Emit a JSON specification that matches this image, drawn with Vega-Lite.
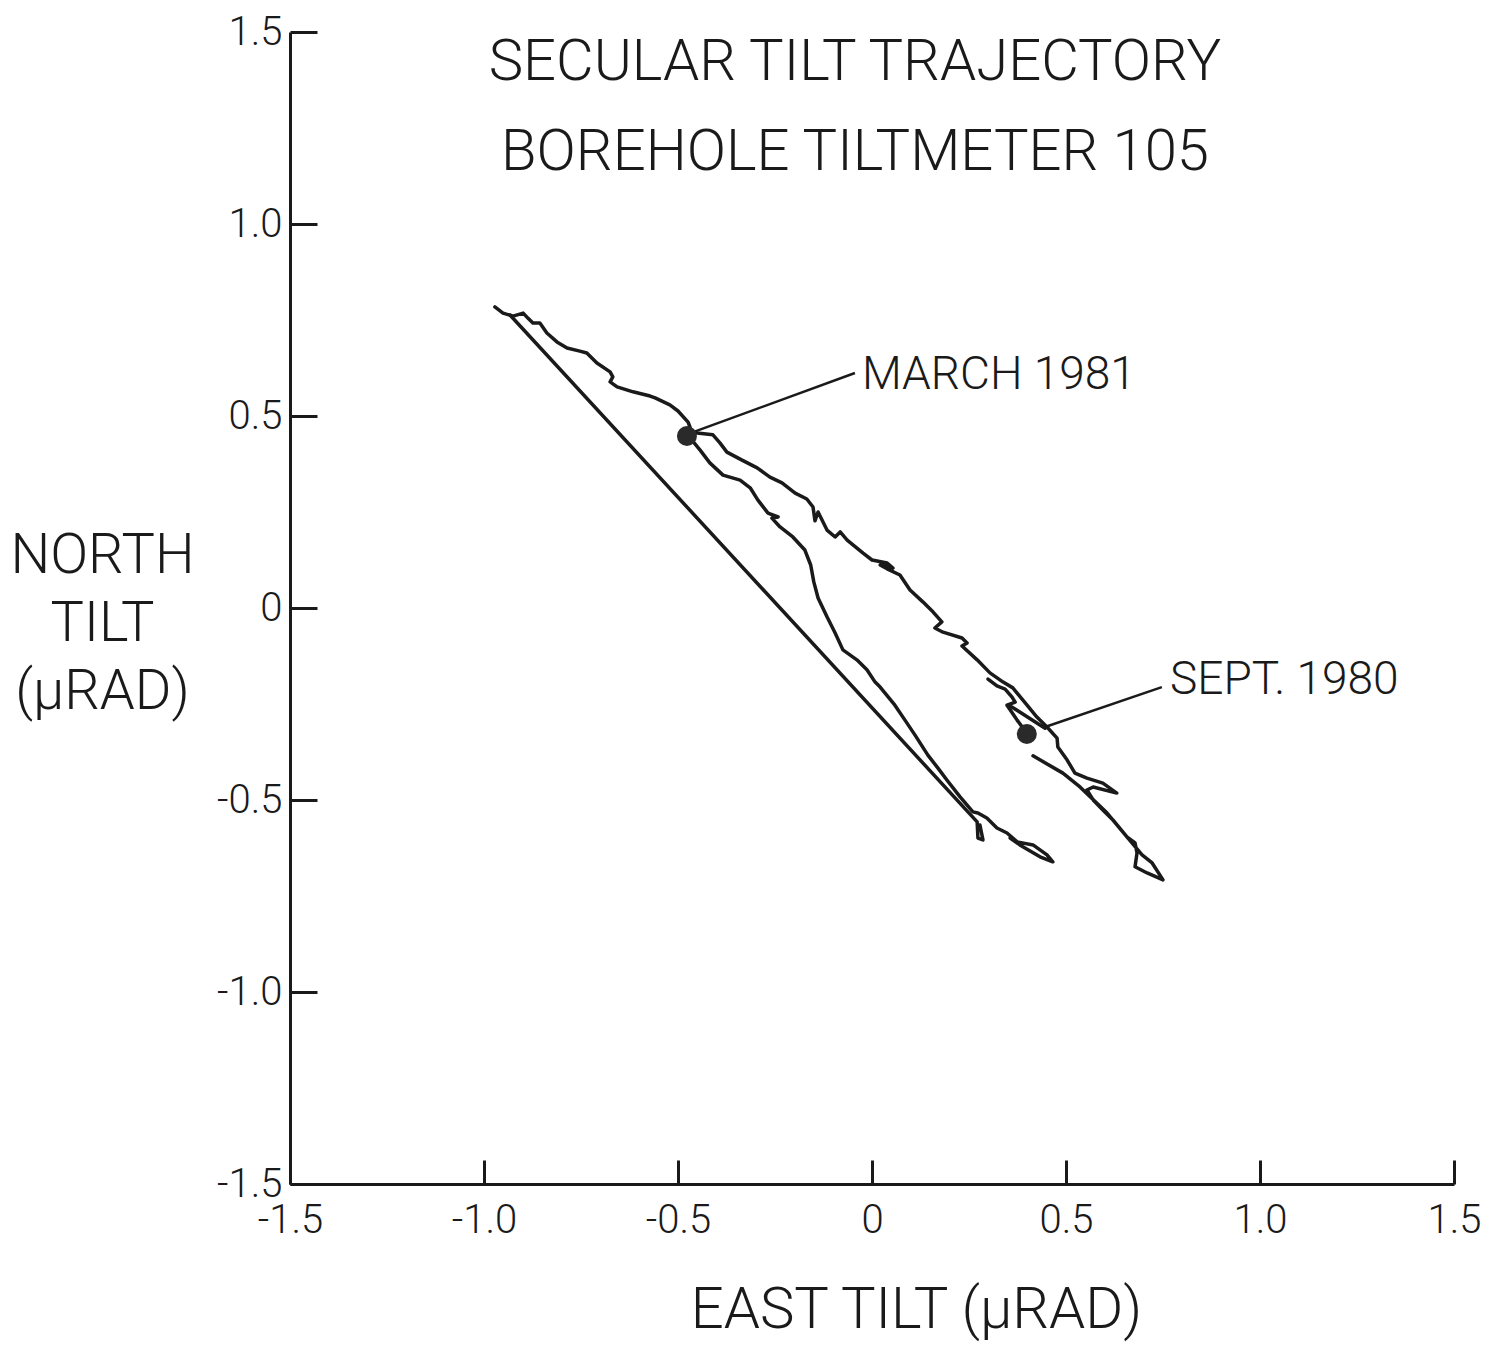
{
"$schema": "https://vega.github.io/schema/vega-lite/v6.json",
"width": 1164, "height": 1152,
"autosize": "none",
"padding": {"left": 290, "top": 32, "right": 51, "bottom": 162},
"background": "white",
"config": {"view": {"stroke": null}, "font": "Roboto"},
"title": {"text": ["SECULAR TILT TRAJECTORY", "BOREHOLE TILTMETER 105"], "fontSize": 58, "font": "Roboto", "fontWeight": 300, "color": "#1a1a1a", "lineHeight": 90, "anchor": "middle", "offset": -170, "dx": -17},
"datasets": {
"track": [
{"seg":"upper","i":1,"x":-0.972,"y":0.784},{"seg":"upper","i":2,"x":-0.951,"y":0.768},{"seg":"upper","i":3,"x":-0.925,"y":0.760},{"seg":"upper","i":4,"x":-0.899,"y":0.768},{"seg":"upper","i":5,"x":-0.887,"y":0.755},{"seg":"upper","i":6,"x":-0.874,"y":0.742},{"seg":"upper","i":7,"x":-0.856,"y":0.742},{"seg":"upper","i":8,"x":-0.838,"y":0.716},{"seg":"upper","i":9,"x":-0.812,"y":0.693},{"seg":"upper","i":10,"x":-0.786,"y":0.677},{"seg":"upper","i":11,"x":-0.753,"y":0.669},{"seg":"upper","i":12,"x":-0.735,"y":0.664},{"seg":"upper","i":13,"x":-0.709,"y":0.638},{"seg":"upper","i":14,"x":-0.675,"y":0.615},{"seg":"upper","i":15,"x":-0.668,"y":0.602},{"seg":"upper","i":16,"x":-0.675,"y":0.589},{"seg":"upper","i":17,"x":-0.657,"y":0.576},{"seg":"upper","i":18,"x":-0.616,"y":0.563},{"seg":"upper","i":19,"x":-0.572,"y":0.552},{"seg":"upper","i":20,"x":-0.559,"y":0.547},{"seg":"upper","i":21,"x":-0.521,"y":0.529},{"seg":"upper","i":22,"x":-0.500,"y":0.513},{"seg":"upper","i":23,"x":-0.474,"y":0.484},{"seg":"upper","i":24,"x":-0.469,"y":0.471},{"seg":"upper","i":25,"x":-0.469,"y":0.456},{"seg":"upper","i":26,"x":-0.451,"y":0.456},{"seg":"upper","i":27,"x":-0.410,"y":0.451},{"seg":"upper","i":28,"x":-0.392,"y":0.430},{"seg":"upper","i":29,"x":-0.374,"y":0.406},{"seg":"upper","i":30,"x":-0.335,"y":0.385},{"seg":"upper","i":31,"x":-0.296,"y":0.365},{"seg":"upper","i":32,"x":-0.263,"y":0.341},{"seg":"upper","i":33,"x":-0.232,"y":0.326},{"seg":"upper","i":34,"x":-0.198,"y":0.299},{"seg":"upper","i":35,"x":-0.168,"y":0.284},{"seg":"upper","i":36,"x":-0.152,"y":0.263},{"seg":"upper","i":37,"x":-0.147,"y":0.227},{"seg":"upper","i":38,"x":-0.139,"y":0.250},{"seg":"upper","i":39,"x":-0.116,"y":0.203},{"seg":"upper","i":40,"x":-0.095,"y":0.185},{"seg":"upper","i":41,"x":-0.082,"y":0.198},{"seg":"upper","i":42,"x":-0.064,"y":0.177},{"seg":"upper","i":43,"x":-0.023,"y":0.143},{"seg":"upper","i":44,"x":0.000,"y":0.125},{"seg":"upper","i":45,"x":0.039,"y":0.117},{"seg":"upper","i":46,"x":0.054,"y":0.104},{"seg":"upper","i":47,"x":0.021,"y":0.112},{"seg":"upper","i":48,"x":0.039,"y":0.102},{"seg":"upper","i":49,"x":0.072,"y":0.086},{"seg":"upper","i":50,"x":0.098,"y":0.047},{"seg":"upper","i":51,"x":0.131,"y":0.016},{"seg":"upper","i":52,"x":0.157,"y":-0.010},{"seg":"upper","i":53,"x":0.180,"y":-0.036},{"seg":"upper","i":54,"x":0.162,"y":-0.052},{"seg":"upper","i":55,"x":0.183,"y":-0.063},{"seg":"upper","i":56,"x":0.232,"y":-0.078},{"seg":"upper","i":57,"x":0.245,"y":-0.091},{"seg":"upper","i":58,"x":0.232,"y":-0.099},{"seg":"upper","i":59,"x":0.271,"y":-0.135},{"seg":"upper","i":60,"x":0.304,"y":-0.169},{"seg":"upper","i":61,"x":0.338,"y":-0.193},{"seg":"upper","i":62,"x":0.363,"y":-0.208},{"seg":"upper","i":63,"x":0.389,"y":-0.240},{"seg":"upper","i":64,"x":0.425,"y":-0.284},{"seg":"upper","i":65,"x":0.451,"y":-0.310},{"seg":"upper","i":66,"x":0.477,"y":-0.339},{"seg":"upper","i":67,"x":0.479,"y":-0.362},{"seg":"upper","i":68,"x":0.503,"y":-0.396},{"seg":"upper","i":69,"x":0.523,"y":-0.430},{"seg":"upper","i":70,"x":0.554,"y":-0.443},{"seg":"upper","i":71,"x":0.595,"y":-0.456},{"seg":"upper","i":72,"x":0.631,"y":-0.482},{"seg":"upper","i":73,"x":0.570,"y":-0.466},{"seg":"upper","i":74,"x":0.554,"y":-0.474},{"seg":"upper","i":75,"x":0.570,"y":-0.500},{"seg":"upper","i":76,"x":0.595,"y":-0.526},{"seg":"upper","i":77,"x":0.621,"y":-0.552},{"seg":"upper","i":78,"x":0.657,"y":-0.596},{"seg":"upper","i":79,"x":0.678,"y":-0.612},{"seg":"upper","i":80,"x":0.683,"y":-0.638},{"seg":"upper","i":81,"x":0.678,"y":-0.674},{"seg":"upper","i":82,"x":0.709,"y":-0.690},{"seg":"upper","i":83,"x":0.750,"y":-0.708},{"seg":"upper","i":84,"x":0.722,"y":-0.664},{"seg":"upper","i":85,"x":0.696,"y":-0.643},{"seg":"upper","i":86,"x":0.657,"y":-0.596},{"seg":"upper","i":87,"x":0.606,"y":-0.534},{"seg":"upper","i":88,"x":0.536,"y":-0.466},{"seg":"upper","i":89,"x":0.492,"y":-0.430},{"seg":"upper","i":90,"x":0.415,"y":-0.385},
{"seg":"sept","i":1,"x":0.299,"y":-0.185},{"seg":"sept","i":2,"x":0.322,"y":-0.203},{"seg":"sept","i":3,"x":0.343,"y":-0.211},{"seg":"sept","i":4,"x":0.361,"y":-0.232},{"seg":"sept","i":5,"x":0.369,"y":-0.245},{"seg":"sept","i":6,"x":0.348,"y":-0.253},{"seg":"sept","i":7,"x":0.374,"y":-0.292},{"seg":"sept","i":8,"x":0.399,"y":-0.326},
{"seg":"diag","i":1,"x":0.356,"y":-0.255},{"seg":"diag","i":2,"x":0.446,"y":-0.313},
{"seg":"straight","i":1,"x":-0.933,"y":0.763},{"seg":"straight","i":2,"x":0.271,"y":-0.557},{"seg":"straight","i":3,"x":0.273,"y":-0.599},{"seg":"straight","i":4,"x":0.286,"y":-0.604},{"seg":"straight","i":5,"x":0.278,"y":-0.565},
{"seg":"middle","i":1,"x":-0.469,"y":0.443},{"seg":"middle","i":2,"x":-0.443,"y":0.411},{"seg":"middle","i":3,"x":-0.418,"y":0.378},{"seg":"middle","i":4,"x":-0.384,"y":0.346},{"seg":"middle","i":5,"x":-0.340,"y":0.333},{"seg":"middle","i":6,"x":-0.314,"y":0.313},{"seg":"middle","i":7,"x":-0.294,"y":0.281},{"seg":"middle","i":8,"x":-0.268,"y":0.247},{"seg":"middle","i":9,"x":-0.242,"y":0.237},{"seg":"middle","i":10,"x":-0.258,"y":0.234},{"seg":"middle","i":11,"x":-0.237,"y":0.211},{"seg":"middle","i":12,"x":-0.204,"y":0.185},{"seg":"middle","i":13,"x":-0.173,"y":0.151},{"seg":"middle","i":14,"x":-0.158,"y":0.112},{"seg":"middle","i":15,"x":-0.150,"y":0.068},{"seg":"middle","i":16,"x":-0.139,"y":0.026},{"seg":"middle","i":17,"x":-0.116,"y":-0.023},{"seg":"middle","i":18,"x":-0.095,"y":-0.065},{"seg":"middle","i":19,"x":-0.075,"y":-0.109},{"seg":"middle","i":20,"x":-0.039,"y":-0.135},{"seg":"middle","i":21,"x":-0.013,"y":-0.161},{"seg":"middle","i":22,"x":0.008,"y":-0.193},{"seg":"middle","i":23,"x":0.021,"y":-0.206},{"seg":"middle","i":24,"x":0.059,"y":-0.253},{"seg":"middle","i":25,"x":0.085,"y":-0.292},{"seg":"middle","i":26,"x":0.111,"y":-0.331},{"seg":"middle","i":27,"x":0.144,"y":-0.383},{"seg":"middle","i":28,"x":0.170,"y":-0.417},{"seg":"middle","i":29,"x":0.193,"y":-0.448},{"seg":"middle","i":30,"x":0.227,"y":-0.492},{"seg":"middle","i":31,"x":0.260,"y":-0.531},{"seg":"middle","i":32,"x":0.273,"y":-0.534},{"seg":"middle","i":33,"x":0.296,"y":-0.547},{"seg":"middle","i":34,"x":0.322,"y":-0.573},{"seg":"middle","i":35,"x":0.348,"y":-0.586},{"seg":"middle","i":36,"x":0.374,"y":-0.609},{"seg":"middle","i":37,"x":0.415,"y":-0.617},{"seg":"middle","i":38,"x":0.451,"y":-0.643},{"seg":"middle","i":39,"x":0.466,"y":-0.661},{"seg":"middle","i":40,"x":0.433,"y":-0.648},{"seg":"middle","i":41,"x":0.381,"y":-0.617},{"seg":"middle","i":42,"x":0.356,"y":-0.599}
],
"dots": [{"x":-0.477,"y":0.448},{"x":0.399,"y":-0.328}],
"leaders": [{"x":-0.461,"y":0.458,"x2":-0.044,"y2":0.612},{"x":0.446,"y":-0.310,"x2":0.747,"y2":-0.206}],
"notes": [{"x":-0.026,"y":0.607,"label":"MARCH 1981"},{"x":0.768,"y":-0.188,"label":"SEPT. 1980"}]
},
"encoding": {
"x": {"field": "x", "type": "quantitative", "scale": {"domain": [-1.5, 1.5], "nice": false, "zero": false},
 "axis": {"values": [-1.5,-1,-0.5,0,0.5,1,1.5], "labelExpr": "datum.value == 0 ? '0' : (datum.value < 0 ? '-' : '') + format(abs(datum.value), '.1f')",
  "grid": false, "domainWidth": 3, "domainColor": "#1a1a1a", "tickWidth": 3, "tickColor": "#1a1a1a", "tickSize": -24, "labelPadding": 40,
  "labelFontSize": 40, "labelFont": "Roboto", "labelFontWeight": 300, "labelColor": "#1a1a1a", "labelFlush": false, "labelOverlap": false, "labelBound": false,
  "title": "EAST TILT (µRAD)", "titleFont": "Roboto", "titleFontSize": 58, "titleFontWeight": 300, "titleColor": "#1a1a1a", "titleX": 626, "titleY": 126, "titleAlign": "center", "titleBaseline": "middle", "titleAnchor": null}},
"y": {"field": "y", "type": "quantitative", "scale": {"domain": [-1.5, 1.5], "nice": false, "zero": false},
 "axis": {"values": [-1.5,-1,-0.5,0,0.5,1,1.5], "labelExpr": "datum.value == 0 ? '0' : (datum.value < 0 ? '-' : '') + format(abs(datum.value), '.1f')",
  "grid": false, "domainWidth": 3, "domainColor": "#1a1a1a", "tickWidth": 3, "tickColor": "#1a1a1a", "tickSize": -27, "labelPadding": 35,
  "labelFontSize": 40, "labelFont": "Roboto", "labelFontWeight": 300, "labelColor": "#1a1a1a", "labelFlush": false, "labelOverlap": false, "labelBound": false,
  "title": ["NORTH", "TILT", "(µRAD)"], "titleAngle": 0, "titleFont": "Roboto", "titleFontSize": 56, "titleFontWeight": 300, "titleColor": "#1a1a1a", "titleLineHeight": 68, "titleX": -188, "titleY": 523, "titleAlign": "center", "titleBaseline": "middle", "titleAnchor": null}}
},
"layer": [
{"data": {"name": "track"}, "mark": {"type": "line", "strokeWidth": 3.5, "color": "#1a1a1a", "strokeJoin": "round", "strokeCap": "round"},
 "encoding": {"detail": {"field": "seg"}, "order": {"field": "i", "type": "quantitative"}}},
{"data": {"name": "leaders"}, "mark": {"type": "rule", "strokeWidth": 2.5, "color": "#1a1a1a"},
 "encoding": {"x2": {"field": "x2"}, "y2": {"field": "y2"}}},
{"data": {"name": "dots"}, "mark": {"type": "point", "shape": "circle", "filled": true, "size": 400, "color": "#2a2a2a", "opacity": 1}},
{"data": {"name": "notes"}, "mark": {"type": "text", "align": "left", "baseline": "middle", "fontSize": 46, "font": "Roboto", "fontWeight": 300, "color": "#1a1a1a"},
 "encoding": {"text": {"field": "label"}}}
]
}
